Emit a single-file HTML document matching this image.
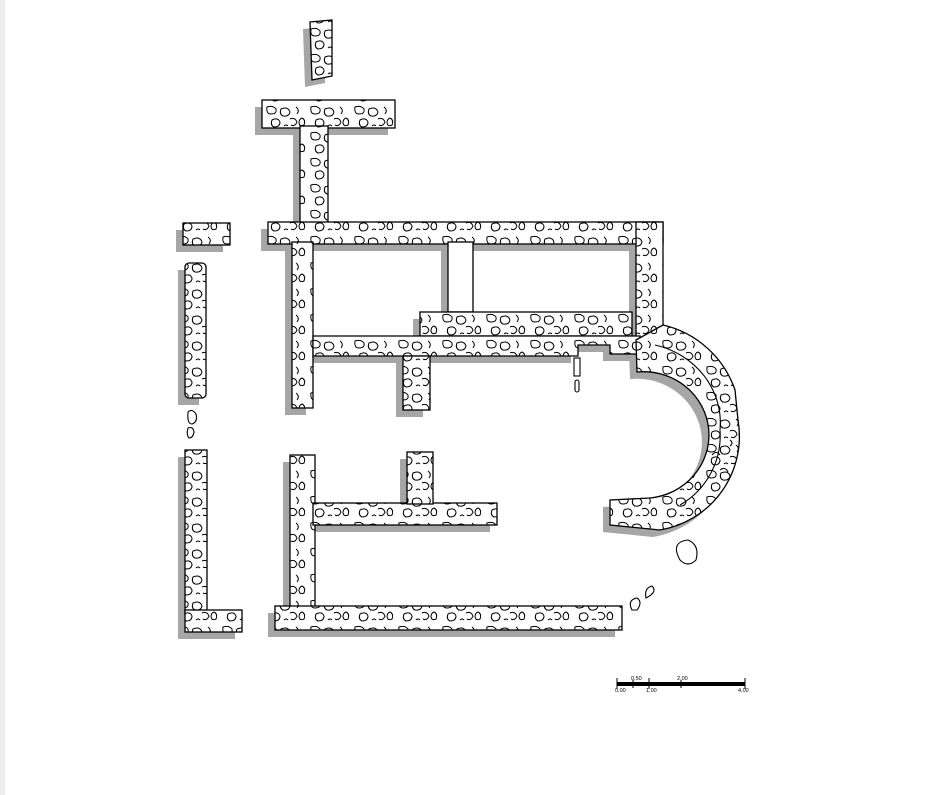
<!DOCTYPE html>
<html><head><style>
html,body{margin:0;padding:0;background:#fff;}
svg{display:block}
</style></head><body>
<svg width="942" height="795" viewBox="0 0 942 795" xmlns="http://www.w3.org/2000/svg">
<defs>
<pattern id="st" width="44" height="26" patternUnits="userSpaceOnUse">
<rect width="44" height="26" fill="#fff"/>
<g fill="none" stroke="#000" stroke-width="1">
<path d="M3 3 q6 -2 9 2 q1 5 -5 5 q-5 0 -4 -7z"/>
<path d="M17 5 q7 -3 9 3 q-1 5 -7 4 q-4 -2 -2 -7z"/>
<path d="M32 3 q4 3 1 7"/>
<path d="M8 16 q6 -3 8 2 q0 5 -6 5 q-4 -2 -2 -7z"/>
<path d="M26 15 q5 -2 7 3 q-2 5 -6 3"/>
<path d="M38 14 q4 2 2 7 q-4 2 -5 -2 q0 -4 3 -5z"/>
<path d="M20 22 q2 -2 4 0"/>
</g>
</pattern>
</defs>
<rect x="0" y="0" width="5" height="795" fill="#eee"/>

<g fill="#a6a6a6" transform="translate(-7,7)">
<polygon points="310,22 332,20 332,76 312,80"/>
<rect x="262" y="100" width="133" height="28"/>
<rect x="300" y="128" width="28" height="95"/>
<rect x="268" y="222" width="395" height="22"/>
<rect x="636" y="222" width="27" height="118"/>
<rect x="292" y="244" width="21" height="164"/>
<rect x="448" y="244" width="25" height="68"/>
<rect x="420" y="312" width="212" height="24"/>
<polygon points="313,336 640,336 640,354 610,354 610,345 578,345 578,356 313,356"/>
<rect x="403" y="356" width="27" height="54"/>
<rect x="183" y="223" width="47" height="22"/>
<rect x="185" y="263" width="21" height="135"/>
<rect x="185" y="450" width="22" height="165"/>
<rect x="185" y="610" width="57" height="22"/>
<rect x="290" y="455" width="25" height="155"/>
<rect x="315" y="503" width="182" height="22"/>
<rect x="407" y="452" width="26" height="52"/>
<rect x="275" y="606" width="347" height="24"/>
<path d="M636 340 L663 325 A100 100 0 0 1 735 390 L738 420 A95 95 0 0 1 660 530 L610 525 L610 500 L650 498 A62 60 0 0 0 637 372 Z"/>
</g>

<g fill="url(#st)" stroke="#000" stroke-width="1.3">
<polygon points="310,22 332,20 332,76 312,80"/>
<rect x="262" y="100" width="133" height="28"/>
<rect x="300" y="126" width="28" height="98"/>
<rect x="268" y="222" width="395" height="22"/>
<rect x="636" y="222" width="27" height="118"/>
<rect x="292" y="242" width="21" height="166"/>
<rect x="448" y="242" width="25" height="70" fill="#fff"/>
<rect x="420" y="312" width="212" height="24"/>
<polygon points="313,336 640,336 640,354 610,354 610,345 578,345 578,356 313,356"/>
<rect x="403" y="356" width="27" height="54"/>
<rect x="183" y="223" width="47" height="22"/>
<rect x="185" y="263" width="21" height="135" rx="4"/>
<rect x="185" y="450" width="22" height="165"/>
<rect x="185" y="610" width="57" height="22"/>
<rect x="290" y="455" width="25" height="155"/>
<rect x="313" y="503" width="184" height="22"/>
<rect x="407" y="452" width="26" height="52"/>
<rect x="275" y="606" width="347" height="24"/>
<path d="M636 340 L663 325 A100 100 0 0 1 735 390 L738 420 A95 95 0 0 1 660 530 L610 525 L610 500 L650 498 A62 60 0 0 0 637 372 Z"/>
</g>
<g fill="none" stroke="#000" stroke-width="1.1">
<path d="M655 345 A85 80 0 0 1 720 430 A80 80 0 0 1 680 505"/>
<path d="M680 560 q-10 -18 8 -20 q12 5 8 20 q-8 8 -16 0z"/>
<path d="M632 610 q-5 -10 5 -12 q6 4 0 12z"/>
<path d="M646 598 q-2 -10 6 -12 q6 6 -6 12z"/>
<path d="M188 412 q4 -4 8 2 q2 8 -4 10 q-5 0 -4 -12z M188 428 q5 -2 6 4 q-1 6 -5 6 q-3 -3 -1 -10z"/>
<rect x="575" y="380" width="4" height="12" rx="2"/>
<rect x="574" y="358" width="6" height="18"/>
<path d="M720 470 q5 -4 8 2 M712 455 q4 -5 8 0 M730 440 q4 3 0 6"/>
</g>
<g font-family="Liberation Sans, sans-serif" font-size="5.5" fill="#000">
<rect x="617" y="682" width="128" height="4" fill="#000"/>
<line x1="617" y1="678" x2="617" y2="689" stroke="#000"/>
<line x1="633" y1="680" x2="633" y2="688" stroke="#000"/>
<line x1="649" y1="678" x2="649" y2="689" stroke="#000"/>
<line x1="681" y1="680" x2="681" y2="688" stroke="#000"/>
<line x1="745" y1="678" x2="745" y2="689" stroke="#000"/>
<text x="631" y="680">0,50</text><text x="677" y="680">2,00</text>
<text x="615" y="692">0,00</text><text x="646" y="692">1,00</text><text x="738" y="692">4,00</text>
</g>
</svg>
</body></html>
